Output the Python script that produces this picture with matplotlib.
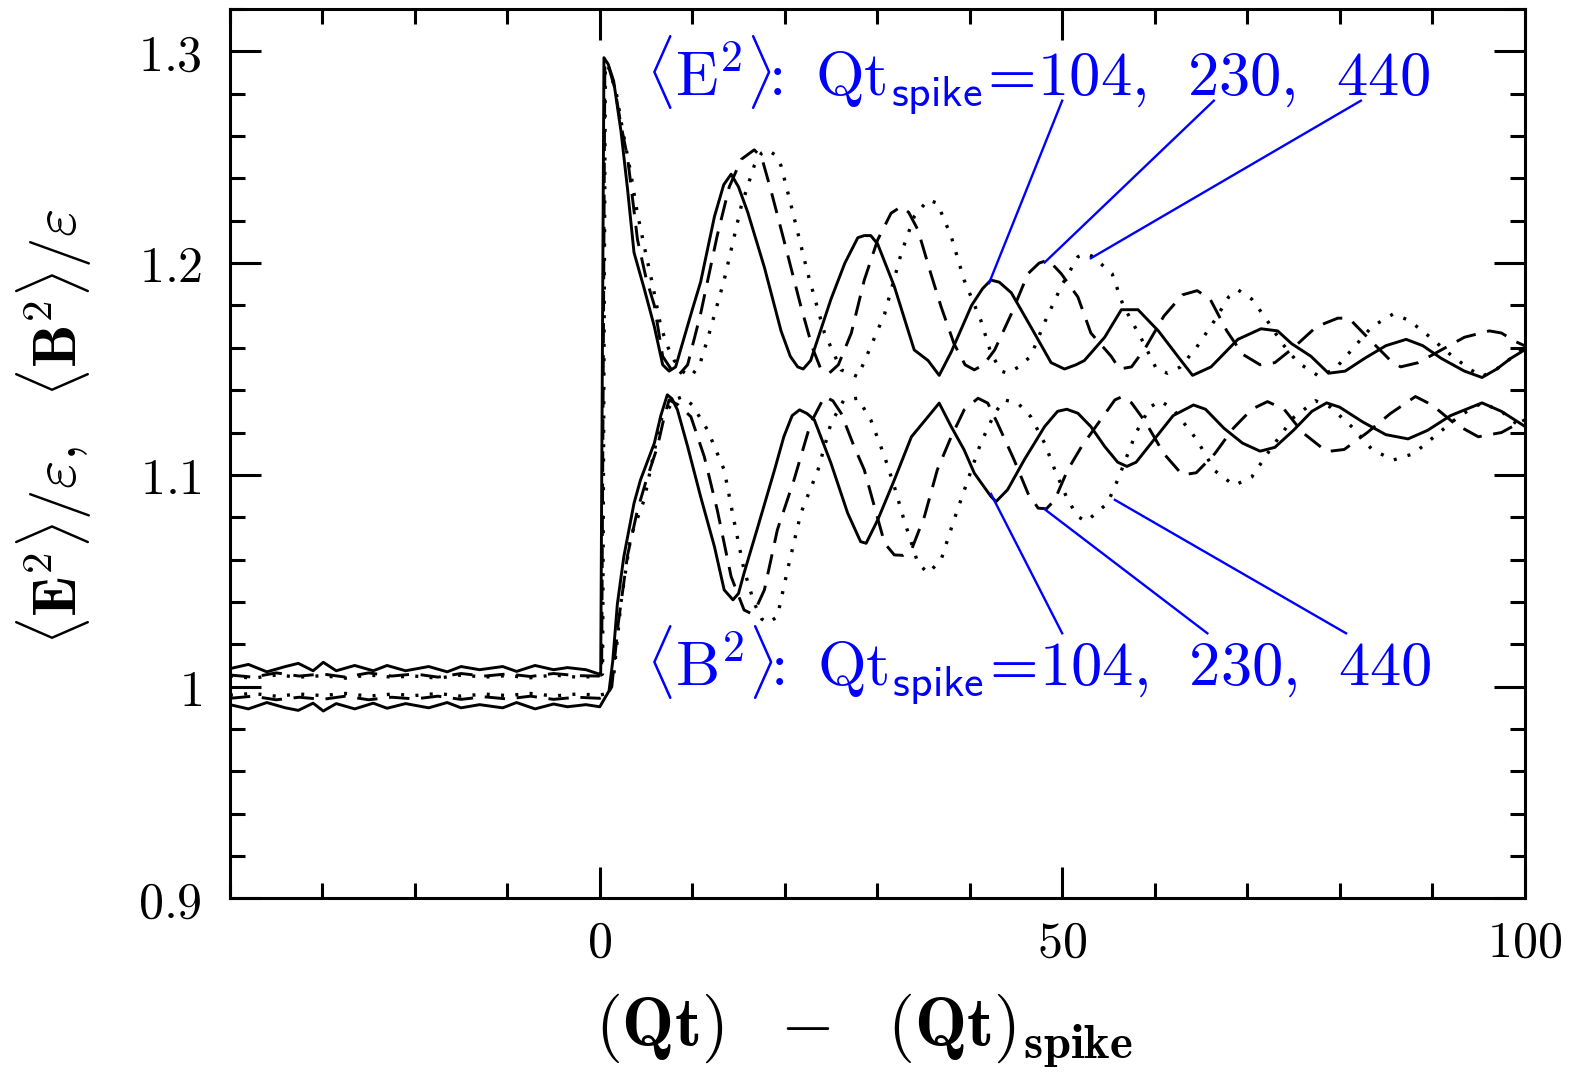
import matplotlib
matplotlib.use("Agg")
import matplotlib.pyplot as plt
from matplotlib.ticker import MultipleLocator, FuncFormatter

plt.rcParams['mathtext.fontset'] = 'cm'
plt.rcParams['font.family'] = ['DejaVu Serif']

# <E^2>/eps, Qt_spike = 104 (solid), 230 (dashed), 440 (dotted)
t_E104 = [-40, -38, -36, -34, -32.6, -31, -29.9, -28.5, -26.5, -24.5, -23, -21, -18.5, -16.5, -15, -13,
          -10.5, -9, -7, -5, -3.5, -1.5, -0.1, 0.1, 0.45, 0.9, 1.5, 2.3, 3.0, 3.7, 4.8, 5.9, 6.8, 7.5,
          8.2, 9.0, 10.0, 10.9, 12.4, 13.4, 14.2, 15.0, 16.0, 17.8, 19.6, 20.6, 21.4, 22.0, 22.8, 25.0,
          26.5, 27.9, 28.6, 29.3, 30.05, 31.85, 34.0, 35.5, 36.7, 38.0, 40.2, 41.4, 42.3, 43.2, 44.5,
          46.6, 48.8, 50.25, 51.5, 52.4, 54.6, 56.4, 57.4, 58.2, 60.4, 62.5, 64.1, 66.1, 69.0, 71.5,
          73.3, 74.8, 76.9, 78.8, 80.6, 82.7, 85.0, 87.2, 89.0, 91.0, 93.5, 95.4, 97.0, 98.5, 100]
E104 = [1.0085, 1.0105, 1.0070, 1.0095, 1.0110, 1.0075, 1.0115, 1.0075, 1.0100, 1.0075, 1.0100, 1.0075,
        1.0095, 1.0070, 1.0095, 1.0080, 1.0095, 1.0072, 1.0100, 1.0080, 1.0090, 1.0080, 1.0060, 1.0060,
        1.297, 1.294, 1.286, 1.262, 1.235, 1.205, 1.188, 1.170, 1.152, 1.149, 1.151, 1.163, 1.178, 1.191,
        1.222, 1.237, 1.242, 1.236, 1.224, 1.198, 1.168, 1.156, 1.151, 1.150, 1.154, 1.183, 1.200, 1.212,
        1.213, 1.213, 1.209, 1.189, 1.159, 1.154, 1.147, 1.158, 1.180, 1.188, 1.192, 1.191, 1.186, 1.170,
        1.153, 1.150, 1.152, 1.154, 1.165, 1.178, 1.178, 1.178, 1.168, 1.156, 1.147, 1.151, 1.164, 1.169,
        1.168, 1.162, 1.156, 1.148, 1.149, 1.155, 1.161, 1.164, 1.161, 1.155, 1.149, 1.146, 1.150, 1.155,
        1.159]

t_E230 = [-40, -37.5, -35, -32.5, -30, -27.5, -25, -22.5, -20, -17.5, -15, -12.5, -10, -7.5, -5, -2.5,
          -0.1, 0.2, 0.55, 1.0, 1.6, 2.3, 3.0, 4.08, 5.0, 5.9, 6.8, 7.7, 8.5, 9.5, 10.9, 12.7, 14.0,
          15.3, 16.7, 17.5, 18.5, 19.9, 21.75, 23.0, 23.9, 24.8, 25.8, 27.2, 28.6, 30.05, 31.5, 32.6,
          33.4, 34.4, 35.8, 36.9, 38.3, 39.5, 40.5, 41.5, 42.7, 44.5, 46.3, 47.5, 48.5, 49.9, 51.7,
          53.1, 55.3, 56.2, 57.5, 59.0, 61.0, 63.0, 64.6, 66.0, 67.8, 69.5, 71.4, 73.0, 75.0, 77.5,
          79.8, 81.0, 83.0, 85.5, 86.6, 88.5, 91.0, 93.5, 96.2, 97.5, 99.0, 100]
E230 = [1.0055, 1.0045, 1.0065, 1.0050, 1.0060, 1.0045, 1.0065, 1.0050, 1.0060, 1.0045, 1.0062, 1.0050,
        1.0060, 1.0048, 1.0062, 1.0052, 1.0050, 1.0060, 1.295, 1.292, 1.283, 1.265, 1.250, 1.211, 1.193,
        1.180, 1.156, 1.150, 1.147, 1.152, 1.176, 1.213, 1.236, 1.249, 1.2535, 1.250, 1.2345, 1.211,
        1.1795, 1.160, 1.150, 1.148, 1.152, 1.167, 1.192, 1.211, 1.2236, 1.2267, 1.224, 1.2157, 1.195,
        1.1795, 1.162, 1.152, 1.1496, 1.152, 1.159, 1.176, 1.195, 1.200, 1.2015, 1.195, 1.184, 1.167,
        1.156, 1.150, 1.151, 1.160, 1.175, 1.185, 1.187, 1.183, 1.168, 1.157, 1.152, 1.153, 1.160, 1.170,
        1.174, 1.174, 1.165, 1.154, 1.151, 1.153, 1.159, 1.165, 1.168, 1.167, 1.163, 1.161]

t_E440 = [-40, -37.5, -35, -32.5, -30, -27.5, -25, -22.5, -20, -17.5, -15, -12.5, -10, -7.5, -5, -2.5,
          -0.1, 0.3, 0.6, 1.0, 1.8, 2.5, 3.35, 4.0, 4.8, 5.7, 6.6, 7.4, 8.05, 8.9, 9.85, 10.8, 11.65,
          13.45, 15.3, 16.7, 17.5, 18.15, 19.0, 19.6, 20.7, 22.5, 24.3, 26.1, 27.9, 29.3, 30.8, 32.6,
          34.0, 35.5, 36.5, 38.0, 39.4, 41.2, 42.3, 43.4, 44.1, 45.3, 46.6, 48.1, 49.9, 51.7, 52.5,
          53.4, 54.6, 55.4, 56.6, 58.6, 60.2, 61.4, 62.8, 64.5, 66.5, 68.0, 69.0, 70.5, 72.0, 73.8,
          75.5, 77.8, 79.5, 81.5, 83.5, 85.8, 87.5, 89.8, 92.2, 94.2, 95.4, 97.0, 98.5, 100]
E440 = [1.0050, 1.0040, 1.0055, 1.0045, 1.0052, 1.0040, 1.0055, 1.0045, 1.0050, 1.0040, 1.0055, 1.0045,
        1.0052, 1.0042, 1.0055, 1.0045, 1.0048, 1.0060, 1.294, 1.292, 1.280, 1.262, 1.2425, 1.225, 1.208,
        1.190, 1.170, 1.160, 1.154, 1.149, 1.1464, 1.152, 1.164, 1.192, 1.227, 1.246, 1.252, 1.2535,
        1.251, 1.246, 1.227, 1.195, 1.167, 1.1496, 1.1464, 1.1606, 1.176, 1.2047, 1.222, 1.2299, 1.2283,
        1.2126, 1.192, 1.173, 1.1575, 1.149, 1.148, 1.151, 1.156, 1.172, 1.189, 1.203, 1.2045, 1.203,
        1.198, 1.195, 1.180, 1.164, 1.150, 1.148, 1.151, 1.160, 1.173, 1.184, 1.1874, 1.183, 1.174, 1.162,
        1.153, 1.1465, 1.150, 1.160, 1.170, 1.176, 1.173, 1.165, 1.156, 1.1496, 1.1465, 1.150, 1.155,
        1.160]

# <B^2>/eps, same three runs
t_B104 = [-40, -38, -36, -34, -32.6, -31, -29.9, -28.5, -26.5, -24.5, -23, -21, -18.5, -16.5, -15, -13,
          -10.5, -9, -7, -5, -3.5, -1.5, 0, 0.6, 1.0, 1.4, 1.9, 2.6, 3.7, 4.4, 5.9, 6.6, 7.3, 7.8, 8.4,
          9.5, 10.9, 12.4, 13.45, 14.4, 15.0, 15.6, 17.1, 18.9, 19.9, 20.8, 21.6, 22.4, 23.2, 25.0, 26.8,
          28.2, 28.8, 30.05, 31.85, 33.7, 35.5, 36.7, 38.0, 39.4, 40.5, 42.3, 42.85, 44.1, 45.9, 48.1,
          49.5, 50.5, 51.7, 53.1, 54.6, 56.0, 57.0, 58.0, 60.0, 62.0, 64.2, 65.5, 67.5, 69.5, 71.4, 73.0,
          75.0, 77.0, 78.6, 80.0, 82.5, 85.0, 87.4, 89.5, 92.0, 95.4, 97.5, 100]
B104 = [0.9915, 0.9895, 0.9925, 0.9900, 0.9888, 0.9922, 0.9885, 0.9920, 0.9895, 0.9922, 0.9898, 0.9920,
        0.9900, 0.9925, 0.9900, 0.9915, 0.9900, 0.9925, 0.9895, 0.9918, 0.9905, 0.9915, 0.9905, 0.9950,
        0.9980, 1.012, 1.039, 1.0614, 1.0866, 1.0976, 1.115, 1.128, 1.1378, 1.136, 1.1307, 1.1134,
        1.0898, 1.0661, 1.0457, 1.041, 1.044, 1.0536, 1.0756, 1.1024, 1.118, 1.128, 1.1307, 1.129, 1.126,
        1.1055, 1.082, 1.0685, 1.0677, 1.0787, 1.0976, 1.118, 1.1275, 1.1339, 1.1228, 1.1118, 1.1008,
        1.0898, 1.0874, 1.093, 1.1071, 1.1228, 1.130, 1.131, 1.1291, 1.1228, 1.1134, 1.106, 1.104, 1.106,
        1.117, 1.128, 1.133, 1.131, 1.122, 1.115, 1.1112, 1.113, 1.121, 1.130, 1.134, 1.132, 1.125, 1.119,
        1.117, 1.121, 1.128, 1.134, 1.130, 1.123]

t_B230 = [-40, -37.5, -35, -32.5, -30, -27.5, -25, -22.5, -20, -17.5, -15, -12.5, -10, -7.5, -5, -2.5,
          0, 0.8, 1.3, 2.0, 3.0, 4.08, 5.0, 6.24, 7.0, 7.5, 8.5, 9.85, 11.3, 12.7, 14.2, 15.6, 16.3,
          17.0, 17.8, 19.2, 21.0, 22.8, 24.3, 25.2, 26.1, 27.5, 28.6, 29.7, 30.8, 31.85, 32.8, 33.7,
          35.1, 36.5, 38.0, 39.4, 40.9, 41.95, 43.0, 44.8, 46.3, 47.4, 48.3, 49.2, 50.6, 52.1, 53.9,
          55.7, 56.5, 57.5, 59.0, 61.0, 63.0, 64.5, 66.5, 68.5, 70.5, 72.2, 74.0, 76.0, 78.6, 80.5,
          83.0, 85.5, 88.2, 90.0, 92.5, 95.0, 97.5, 100]
B230 = [0.9945, 0.9955, 0.9938, 0.9950, 0.9940, 0.9955, 0.9938, 0.9950, 0.9942, 0.9955, 0.9940, 0.9952,
        0.9942, 0.9955, 0.9940, 0.9950, 0.9945, 0.9960, 1.000, 1.030, 1.062, 1.0835, 1.097, 1.1134,
        1.128, 1.1354, 1.133, 1.1275, 1.1086, 1.0835, 1.052, 1.0362, 1.0347, 1.038, 1.0457, 1.074,
        1.0976, 1.1244, 1.137, 1.135, 1.1291, 1.1134, 1.1024, 1.085, 1.0677, 1.0622, 1.062, 1.0646,
        1.0803, 1.1024, 1.118, 1.1307, 1.1362, 1.1339, 1.1244, 1.1071, 1.0913, 1.0843, 1.084, 1.0882,
        1.1024, 1.1134, 1.1244, 1.1354, 1.137, 1.134, 1.125, 1.110, 1.100, 1.101, 1.110, 1.122, 1.131,
        1.1346, 1.131, 1.120, 1.111, 1.112, 1.120, 1.129, 1.137, 1.133, 1.124, 1.118, 1.120, 1.126]

t_B440 = [-40, -37.5, -35, -32.5, -30, -27.5, -25, -22.5, -20, -17.5, -15, -12.5, -10, -7.5, -5, -2.5,
          0, 1.0, 1.5, 2.3, 3.35, 4.8, 5.6, 6.6, 8.05, 9.0, 10.0, 11.65, 13.45, 14.5, 15.6, 16.7, 17.5,
          18.15, 19.2, 20.3, 21.75, 23.6, 25.0, 26.4, 27.9, 29.3, 30.8, 31.85, 32.9, 34.4, 35.5, 36.9,
          38.3, 39.8, 41.2, 42.7, 43.75, 45.2, 46.6, 48.1, 49.2, 50.6, 51.7, 52.6, 54.9, 56.0, 58.0,
          59.5, 60.6, 62.0, 64.5, 66.5, 68.6, 70.5, 72.5, 75.0, 77.4, 79.0, 81.5, 83.5, 85.8, 88.0,
          90.5, 93.0, 95.4, 97.5, 100]
B440 = [0.9960, 0.9968, 0.9955, 0.9965, 0.9958, 0.9968, 0.9955, 0.9965, 0.9958, 0.9968, 0.9955, 0.9965,
        0.9958, 0.9968, 0.9956, 0.9965, 0.9960, 0.9970, 1.005, 1.040, 1.0709, 1.0882, 1.105, 1.126,
        1.1354, 1.137, 1.133, 1.1212, 1.1024, 1.0787, 1.0551, 1.0394, 1.032, 1.030, 1.033, 1.0551, 1.082,
        1.1024, 1.1244, 1.1354, 1.1362, 1.126, 1.1086, 1.0945, 1.0787, 1.0583, 1.0536, 1.0598, 1.0787,
        1.0976, 1.115, 1.1291, 1.1354, 1.1339, 1.1275, 1.115, 1.1024, 1.0882, 1.0803, 1.078, 1.0866,
        1.0976, 1.120, 1.132, 1.135, 1.131, 1.117, 1.102, 1.095, 1.099, 1.112, 1.127, 1.135, 1.132,
        1.122, 1.112, 1.107, 1.110, 1.119, 1.128, 1.134, 1.130, 1.121]

spikes = ['104', '230', '440']

fig = plt.figure(figsize=(15.81, 10.84), dpi=100)
ax = fig.add_axes([0.1454, 0.1712, 0.8189, 0.8205])

solid = dict(color='black', lw=2.1, ls='-')
dashed = dict(color='black', lw=2.1, ls=(0, (7, 4)))
dotted = dict(color='black', lw=2.4, ls=(0, (0.9, 3.4)))

ax.plot(t_E104, E104, **solid)
ax.plot(t_E230, E230, **dashed)
ax.plot(t_E440, E440, **dotted)
ax.plot(t_B104, B104, **solid)
ax.plot(t_B230, B230, **dashed)
ax.plot(t_B440, B440, **dotted)

# blue labels and pointer lines
lab = (r'$\langle\mathrm{E}^{2}\rangle\!\!:\ \mathrm{Qt}_{\mathsf{spike}}\!=\!'
       + r',\ \,'.join(spikes) + '$')
ax.text(5.0, 1.2886, lab, color='blue', fontsize=45, ha='left', va='center')
lab = lab.replace('E', 'B')
ax.text(5.0, 1.010, lab, color='blue', fontsize=45, ha='left', va='center')

for x0, y0, x1, y1 in [(50.0, 1.2767, 42.1, 1.1906), (66.4, 1.2767, 48.1, 1.2003), (82.3, 1.2767, 53.1, 1.2023),
                       (50.0, 1.0252, 42.3, 1.0910), (65.7, 1.0252, 48.1, 1.0838), (80.7, 1.0252, 55.7, 1.0882)]:
    ax.plot([x0, x1], [y0, y1], color='blue', lw=1.7)

ax.set_xlim(-40, 100)
ax.set_ylim(0.9, 1.32)
ax.set_xticks([0, 50, 100])
ax.xaxis.set_minor_locator(MultipleLocator(10))
ax.set_yticks([0.9, 1.0, 1.1, 1.2, 1.3])
ax.yaxis.set_minor_locator(MultipleLocator(0.02))
fmt = FuncFormatter(lambda v, p: r'$%g$' % round(v, 2))
ax.xaxis.set_major_formatter(fmt)
ax.yaxis.set_major_formatter(fmt)

ax.tick_params(which='both', direction='in', top=True, right=True, width=2.2, labelsize=36)
ax.tick_params(which='major', length=22)
ax.tick_params(which='minor', length=11)
ax.tick_params(axis='x', pad=14)
ax.tick_params(axis='y', pad=20)
for s in ax.spines.values():
    s.set_linewidth(2.2)

ax.set_xlabel(r'$\mathbf{(Qt)\ \ -\ \ (Qt)_{spike}}$', fontsize=50)
ax.xaxis.set_label_coords(0.49, -0.105)
ax.set_ylabel(r'$\mathbf{\langle E^{2}\rangle/\varepsilon,\ \ \langle B^{2}\rangle/\varepsilon}$', fontsize=44)
ax.yaxis.set_label_coords(-0.105, 0.53)

fig.savefig('out.png', dpi=100)
